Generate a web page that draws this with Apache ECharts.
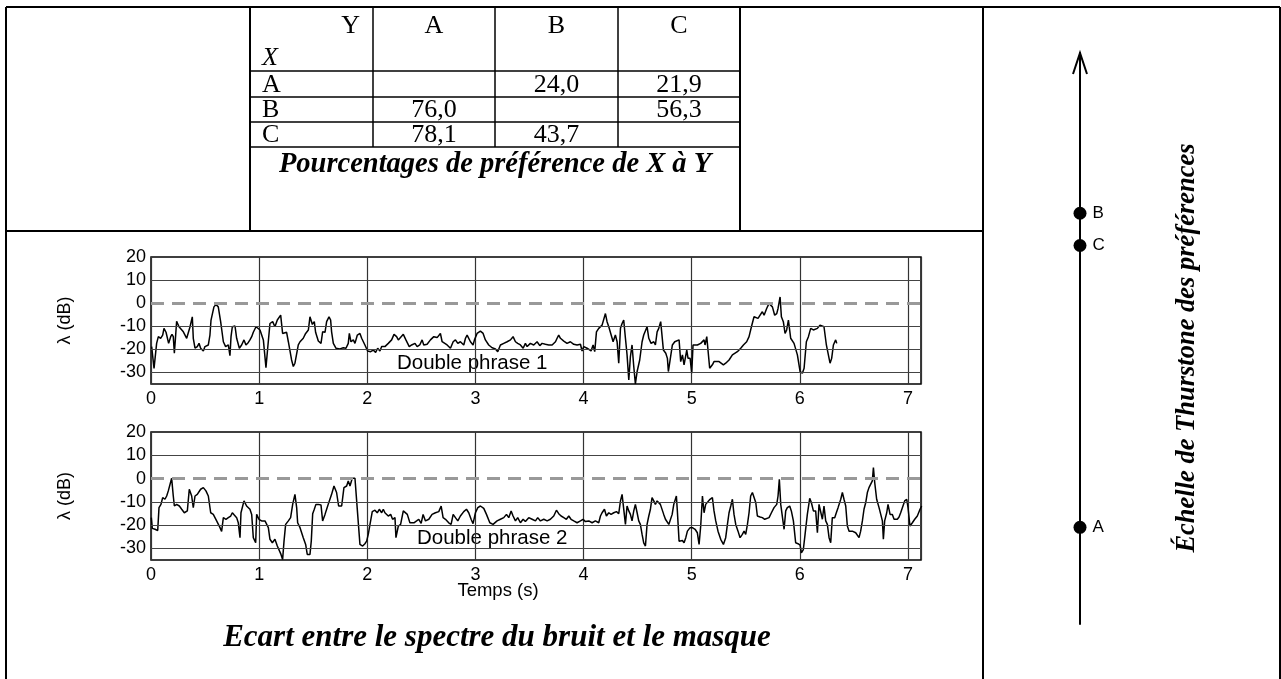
<!DOCTYPE html>
<html>
<head>
<meta charset="utf-8">
<title>Ecart entre le spectre du bruit et le masque</title>
<script src="https://cdn.jsdelivr.net/npm/echarts@6/dist/echarts.min.js"></script>
<style>
  html, body { margin: 0; padding: 0; background: #fff; }
  #main { width: 1281px; height: 679px; }
</style>
</head>
<body>
<div id="main"></div>
<script>
// pourcentages de préférence de X (lignes) à Y (colonnes)
var prefCols = ['A', 'B', 'C'];
var prefRows = ['A', 'B', 'C'];
var prefA = [null, 24.0, 21.9];
var prefB = [76.0, null, 56.3];
var prefC = [78.1, 43.7, null];

// échelle de Thurstone
var scaleNames = ['A', 'B', 'C'];
var scaleValues = [-0.49, 0.29, 0.21];

// axes des deux tracés
var timeMax = 7.12;
var levelTicks = [20, 10, 0, -10, -20, -30];
var gridLevels = [10, -10, -20, -30];
var maskLevel = 0;

// lambda (dB) en fonction du temps (s) - double phrase 1
var trace1 = [
  [0.006,-18.8],[0.028,-28.2],[0.052,-17.4],[0.068,-14.5],[0.089,-15.2],[0.108,-13.8],[0.120,-10.9],[0.139,-12.6],
  [0.151,-13.1],[0.163,-17.4],[0.182,-14.5],[0.194,-13.5],[0.206,-14.5],[0.216,-21.7],[0.225,-15.9],[0.237,-7.8],
  [0.259,-10.2],[0.274,-10.9],[0.299,-12.4],[0.314,-12.1],[0.330,-15.2],[0.345,-14.5],[0.361,-10.2],[0.382,-5.9],
  [0.391,-15.2],[0.407,-19.5],[0.428,-18.8],[0.444,-17.4],[0.459,-19.5],[0.484,-20.7],[0.499,-18.8],[0.530,-18.1],
  [0.545,-13.8],[0.555,-7.3],[0.582,-1.6],[0.601,-0.6],[0.622,-1.6],[0.644,-8.0],[0.669,-16.7],[0.690,-18.8],
  [0.706,-19.5],[0.715,-18.1],[0.730,-22.7],[0.740,-14.5],[0.752,-10.2],[0.777,-9.9],[0.792,-15.2],[0.817,-19.5],
  [0.838,-18.1],[0.860,-15.9],[0.878,-18.1],[0.900,-17.0],[0.915,-15.9],[0.931,-14.5],[0.946,-12.6],[0.971,-10.2],
  [0.986,-9.5],[1.008,-11.6],[1.039,-15.9],[1.063,-27.9],[1.079,-19.5],[1.100,-8.8],[1.125,-8.0],[1.146,-10.2],
  [1.168,-7.3],[1.199,-5.2],[1.217,-13.1],[1.254,-12.6],[1.270,-16.7],[1.300,-24.6],[1.316,-27.4],[1.331,-26.0],
  [1.362,-18.1],[1.378,-16.7],[1.408,-15.2],[1.430,-13.1],[1.455,-11.6],[1.470,-5.9],[1.492,-9.2],[1.510,-8.0],
  [1.522,-12.6],[1.547,-16.4],[1.572,-17.4],[1.587,-12.4],[1.609,-12.6],[1.624,-8.0],[1.646,-5.9],[1.661,-7.3],
  [1.670,-12.4],[1.686,-17.4],[1.710,-19.5],[1.747,-19.8],[1.778,-19.3],[1.803,-19.5],[1.824,-17.4],[1.834,-13.1],
  [1.849,-16.7],[1.871,-15.9],[1.886,-17.4],[1.908,-13.8],[1.932,-13.1],[1.948,-15.2],[1.978,-18.1],[2.003,-20.7],
  [2.031,-21.0],[2.055,-20.3],[2.077,-21.3],[2.096,-19.5],[2.117,-20.7],[2.133,-18.8],[2.163,-18.8],[2.194,-17.4],
  [2.225,-15.9],[2.247,-13.5],[2.271,-14.5],[2.287,-15.9],[2.333,-13.5],[2.357,-15.9],[2.388,-18.8],[2.410,-18.1],
  [2.441,-17.4],[2.461,-18.8],[2.485,-18.1],[2.507,-15.9],[2.522,-18.1],[2.553,-17.8],[2.584,-15.9],[2.615,-14.5],
  [2.646,-14.9],[2.676,-13.1],[2.692,-16.7],[2.707,-15.9],[2.738,-18.1],[2.769,-19.5],[2.794,-16.7],[2.815,-15.9],
  [2.837,-17.4],[2.861,-16.7],[2.892,-18.1],[2.908,-15.2],[2.923,-13.8],[2.954,-16.7],[2.978,-18.1],[2.991,-15.9],
  [3.015,-13.1],[3.046,-12.1],[3.071,-13.1],[3.092,-15.9],[3.123,-18.1],[3.154,-19.3],[3.185,-19.8],[3.206,-21.0],
  [3.231,-18.1],[3.262,-17.4],[3.293,-16.7],[3.324,-15.9],[3.348,-14.5],[3.370,-16.7],[3.391,-17.4],[3.416,-18.1],
  [3.441,-19.5],[3.462,-17.4],[3.478,-18.8],[3.508,-17.4],[3.539,-18.1],[3.570,-16.7],[3.595,-18.4],[3.616,-17.4],
  [3.647,-17.8],[3.678,-18.1],[3.709,-18.1],[3.740,-16.7],[3.755,-15.2],[3.770,-13.8],[3.786,-15.2],[3.817,-16.4],
  [3.847,-17.4],[3.878,-16.7],[3.909,-17.8],[3.940,-18.1],[3.971,-17.8],[3.986,-20.7],[4.002,-18.8],[4.017,-18.1],
  [4.032,-19.5],[4.048,-18.8],[4.069,-20.7],[4.088,-18.1],[4.103,-21.0],[4.119,-12.4],[4.140,-10.9],[4.156,-11.6],
  [4.171,-9.5],[4.186,-8.8],[4.202,-4.5],[4.217,-8.0],[4.233,-10.2],[4.248,-10.9],[4.273,-16.7],[4.294,-13.8],
  [4.310,-16.7],[4.325,-26.0],[4.341,-10.9],[4.356,-8.8],[4.371,-7.3],[4.387,-15.2],[4.402,-22.4],[4.418,-33.2],
  [4.433,-23.1],[4.448,-18.1],[4.464,-27.4],[4.479,-35.0],[4.495,-29.6],[4.519,-24.6],[4.541,-16.7],[4.556,-13.8],
  [4.572,-14.5],[4.587,-10.2],[4.603,-15.2],[4.624,-17.4],[4.649,-16.7],[4.664,-18.1],[4.680,-12.4],[4.695,-10.9],
  [4.713,-8.0],[4.738,-20.3],[4.760,-21.7],[4.775,-23.9],[4.784,-29.6],[4.800,-28.9],[4.821,-18.1],[4.843,-16.7],
  [4.883,-15.9],[4.898,-25.3],[4.914,-22.4],[4.929,-26.7],[4.954,-20.3],[4.966,-23.9],[4.985,-23.9],[5.000,-30.3],
  [5.012,-18.1],[5.028,-18.8],[5.052,-18.1],[5.068,-18.8],[5.083,-17.4],[5.099,-17.4],[5.114,-15.9],[5.123,-18.1],
  [5.139,-14.5],[5.166,-28.2],[5.191,-26.7],[5.206,-25.3],[5.253,-25.3],[5.268,-26.0],[5.293,-26.7],[5.314,-26.0],
  [5.345,-24.6],[5.361,-23.9],[5.376,-22.4],[5.391,-23.1],[5.422,-21.0],[5.453,-19.5],[5.478,-18.1],[5.484,-18.8],
  [5.508,-16.7],[5.530,-14.5],[5.552,-10.2],[5.576,-5.9],[5.592,-5.2],[5.613,-6.6],[5.632,-5.2],[5.653,-3.7],
  [5.669,-5.2],[5.693,-2.3],[5.715,-0.1],[5.730,0.6],[5.746,-1.6],[5.767,-5.2],[5.786,-4.5],[5.798,-2.3],
  [5.817,2.7],[5.829,-5.9],[5.847,-8.0],[5.863,-13.1],[5.878,-11.6],[5.894,-7.3],[5.915,-15.2],[5.931,-15.9],
  [5.946,-17.4],[5.977,-22.4],[6.002,-29.6],[6.023,-30.3],[6.039,-28.2],[6.060,-16.7],[6.079,-14.5],[6.100,-10.9],
  [6.125,-11.6],[6.162,-10.9],[6.186,-9.5],[6.199,-8.8],[6.223,-10.2],[6.245,-18.1],[6.270,-23.9],[6.279,-26.0],
  [6.294,-23.9],[6.310,-18.1],[6.331,-15.9],[6.341,-17.4]
];

// double phrase 2
var trace2 = [
  [0.003,-16.8],[0.012,-21.4],[0.037,-21.8],[0.062,-22.3],[0.074,-12.5],[0.092,-11.1],[0.108,-8.2],[0.129,-8.9],
  [0.145,-7.5],[0.160,-5.3],[0.191,0.1],[0.206,-7.5],[0.216,-11.8],[0.237,-11.1],[0.262,-11.8],[0.284,-13.2],
  [0.308,-14.7],[0.320,-15.4],[0.336,-13.9],[0.354,-4.6],[0.376,-7.5],[0.391,-12.5],[0.407,-7.5],[0.428,-6.8],
  [0.444,-7.5],[0.459,-4.6],[0.484,-3.9],[0.508,-5.3],[0.530,-7.5],[0.552,-14.7],[0.576,-15.4],[0.607,-18.2],
  [0.638,-21.1],[0.653,-22.7],[0.669,-16.8],[0.693,-17.5],[0.715,-16.8],[0.737,-16.1],[0.752,-14.7],[0.770,-15.7],
  [0.792,-16.8],[0.807,-19.0],[0.823,-25.4],[0.832,-14.7],[0.860,-9.6],[0.884,-11.8],[0.915,-13.2],[0.931,-15.4],
  [0.946,-25.4],[0.968,-27.6],[0.977,-15.4],[0.998,-17.5],[1.023,-18.2],[1.054,-18.2],[1.085,-21.1],[1.100,-26.1],
  [1.122,-27.6],[1.146,-26.1],[1.168,-29.0],[1.186,-29.0],[1.202,-32.6],[1.217,-34.8],[1.230,-26.9],[1.245,-19.7],
  [1.270,-18.2],[1.291,-16.8],[1.310,-11.1],[1.331,-6.8],[1.347,-12.5],[1.356,-19.0],[1.378,-21.1],[1.408,-25.4],
  [1.430,-28.3],[1.445,-32.6],[1.470,-32.6],[1.482,-26.9],[1.495,-15.1],[1.510,-13.2],[1.525,-11.1],[1.547,-11.1],
  [1.572,-11.4],[1.587,-18.2],[1.609,-15.4],[1.624,-13.2],[1.649,-9.6],[1.670,-6.8],[1.692,-3.2],[1.716,-6.0],
  [1.735,-11.8],[1.763,-11.8],[1.784,-3.9],[1.809,-3.2],[1.824,-1.0],[1.840,-3.2],[1.861,0.1],[1.886,0.1],
  [1.911,-15.4],[1.932,-28.3],[1.957,-29.0],[1.978,-28.0],[1.994,-26.9],[2.009,-24.0],[2.025,-19.7],[2.046,-14.2],
  [2.071,-13.6],[2.092,-14.7],[2.111,-13.2],[2.133,-14.7],[2.148,-13.2],[2.163,-14.7],[2.194,-16.1],[2.216,-15.4],
  [2.234,-17.5],[2.256,-16.8],[2.265,-25.4],[2.287,-20.4],[2.308,-19.7],[2.333,-13.9],[2.348,-13.2],[2.370,-15.4],
  [2.394,-19.0],[2.410,-19.7],[2.431,-19.0],[2.456,-18.2],[2.476,-17.5],[2.498,-19.3],[2.516,-15.4],[2.538,-18.2],
  [2.569,-17.5],[2.599,-15.4],[2.630,-14.7],[2.661,-14.2],[2.683,-11.8],[2.701,-16.8],[2.723,-17.5],[2.753,-19.0],
  [2.775,-19.7],[2.794,-15.4],[2.815,-16.8],[2.837,-18.2],[2.861,-16.1],[2.892,-14.2],[2.917,-13.2],[2.938,-14.7],
  [2.960,-17.5],[2.978,-19.4],[3.000,-14.7],[3.022,-12.5],[3.046,-11.8],[3.077,-12.8],[3.102,-15.4],[3.133,-19.0],
  [3.163,-19.7],[3.200,-18.2],[3.231,-17.5],[3.262,-16.8],[3.287,-15.4],[3.308,-16.8],[3.330,-13.9],[3.348,-16.1],
  [3.370,-18.2],[3.391,-16.8],[3.416,-19.0],[3.441,-17.5],[3.462,-18.5],[3.493,-16.8],[3.524,-17.5],[3.555,-18.2],
  [3.576,-16.8],[3.601,-18.2],[3.632,-17.5],[3.663,-18.2],[3.693,-17.5],[3.724,-16.1],[3.749,-13.6],[3.770,-15.1],
  [3.792,-16.1],[3.817,-16.8],[3.841,-17.5],[3.863,-16.1],[3.884,-17.5],[3.909,-18.2],[3.940,-19.0],[3.971,-18.2],
  [3.995,-17.5],[4.017,-18.5],[4.048,-18.2],[4.079,-19.0],[4.109,-18.2],[4.140,-19.0],[4.156,-16.1],[4.171,-14.7],
  [4.193,-13.2],[4.211,-16.1],[4.233,-14.7],[4.254,-15.4],[4.279,-14.7],[4.304,-14.2],[4.325,-15.1],[4.341,-9.6],
  [4.356,-6.8],[4.371,-6.0],[4.387,-19.7],[4.402,-11.8],[4.418,-13.9],[4.433,-15.4],[4.448,-18.2],[4.464,-13.9],
  [4.479,-11.1],[4.495,-14.7],[4.510,-18.2],[4.525,-19.7],[4.541,-24.0],[4.556,-27.6],[4.572,-29.0],[4.587,-19.7],
  [4.603,-16.1],[4.618,-13.2],[4.633,-8.2],[4.649,-9.6],[4.664,-11.1],[4.680,-9.6],[4.695,-8.9],[4.710,-11.1],
  [4.726,-11.1],[4.741,-15.4],[4.757,-17.5],[4.772,-18.2],[4.788,-19.7],[4.803,-19.0],[4.819,-15.4],[4.834,-11.1],
  [4.858,-7.5],[4.867,-13.9],[4.883,-26.9],[4.898,-26.1],[4.914,-26.6],[4.929,-27.6],[4.945,-25.4],[4.960,-22.6],
  [4.985,-21.1],[5.006,-21.1],[5.031,-21.8],[5.052,-23.3],[5.068,-28.3],[5.083,-20.4],[5.099,-7.5],[5.114,-14.7],
  [5.129,-11.1],[5.145,-10.3],[5.169,-8.9],[5.191,-8.2],[5.206,-13.9],[5.222,-18.2],[5.243,-22.6],[5.268,-26.1],
  [5.293,-28.3],[5.314,-25.4],[5.330,-19.7],[5.345,-14.7],[5.361,-11.8],[5.376,-8.9],[5.391,-15.4],[5.407,-19.7],
  [5.428,-22.6],[5.447,-25.4],[5.468,-24.0],[5.484,-22.6],[5.499,-24.0],[5.515,-19.7],[5.530,-14.7],[5.545,-7.5],
  [5.561,-6.0],[5.576,-5.3],[5.592,-10.3],[5.607,-16.1],[5.632,-16.5],[5.653,-16.8],[5.675,-17.5],[5.693,-16.8],
  [5.715,-16.8],[5.737,-14.7],[5.761,-12.5],[5.786,-11.1],[5.798,-7.5],[5.810,-0.3],[5.823,-11.1],[5.838,-10.8],
  [5.854,-21.8],[5.869,-13.9],[5.884,-12.5],[5.906,-11.8],[5.921,-13.9],[5.940,-18.2],[5.961,-27.6],[5.983,-28.0],
  [6.002,-28.6],[6.014,-31.9],[6.032,-30.5],[6.048,-24.0],[6.069,-15.4],[6.091,-8.5],[6.106,-10.3],[6.125,-13.9],
  [6.146,-13.9],[6.162,-23.3],[6.177,-11.1],[6.193,-10.8],[6.208,-17.5],[6.223,-11.8],[6.239,-18.2],[6.254,-19.7],
  [6.270,-25.4],[6.285,-27.6],[6.300,-16.8],[6.322,-16.8],[6.337,-14.7],[6.353,-12.5],[6.378,-8.9],[6.393,-6.0],
  [6.408,-8.9],[6.424,-11.8],[6.439,-20.4],[6.455,-22.6],[6.470,-21.8],[6.485,-22.6],[6.501,-22.6],[6.516,-23.3],
  [6.532,-24.0],[6.547,-25.4],[6.562,-22.6],[6.578,-18.2],[6.593,-13.2],[6.609,-10.3],[6.624,-6.0],[6.639,-3.9],
  [6.655,-4.6],[6.670,-1.0],[6.680,4.7],[6.692,-1.7],[6.710,-8.9],[6.732,-12.5],[6.747,-13.2],[6.763,-18.2],
  [6.772,-26.1],[6.784,-18.2],[6.803,-14.7],[6.815,-11.1],[6.834,-15.4],[6.855,-15.4],[6.871,-17.5],[6.901,-17.5],
  [6.917,-16.5],[6.932,-14.7],[6.948,-15.4],[6.969,-9.6],[6.988,-8.9],[7.000,-12.5],[7.018,-20.4],[7.040,-19.0],
  [7.062,-17.5],[7.086,-16.1],[7.111,-13.2],[7.126,-11.8]
];

var chart = echarts.init(document.getElementById('main'), null, { renderer: 'canvas' });

var sans = '"Liberation Sans", Arial, sans-serif';
var serif = '"Liberation Serif", "Times New Roman", serif';

// cadre et tableau
var tableX = [250, 373, 495, 618, 740];
var tableY = [7, 71, 97, 122, 147, 231];

function seg(x1, y1, x2, y2, w) {
  return { type: 'line', silent: true, shape: { x1: x1, y1: y1, x2: x2, y2: y2 },
           style: { stroke: '#000', lineWidth: w } };
}
function txt(x, y, s, size, font, align, style) {
  return { type: 'text', silent: true, x: x, y: y,
           style: { text: s, fill: '#000', font: (style || '') + ' ' + size + 'px ' + font,
                    align: align || 'center', verticalAlign: 'middle' } };
}
function fmtPct(v) {
  return v == null ? '' : v.toFixed(1).replace('.', ',');
}

var graphics = [];
// cadre extérieur
graphics.push(seg(6, 7, 1280, 7, 2));
graphics.push(seg(6, 7, 6, 679, 2));
graphics.push(seg(1280, 7, 1280, 679, 2));
graphics.push(seg(983, 7, 983, 679, 2));
graphics.push(seg(6, 231, 983, 231, 2));
// tableau
graphics.push(seg(tableX[0], 7, tableX[0], 231, 2));
graphics.push(seg(tableX[4], 7, tableX[4], 231, 2));
for (var i = 1; i < 4; i++) graphics.push(seg(tableX[i], 7, tableX[i], tableY[4], 1.5));
for (var j = 1; j < 5; j++) graphics.push(seg(tableX[0], tableY[j], tableX[4], tableY[j], 1.5));

var cellSize = 26;
graphics.push(txt(360, 26, 'Y', cellSize, serif, 'right'));
graphics.push(txt(262, 58, 'X', cellSize, serif, 'left', 'italic'));
var prefData = [prefA, prefB, prefC];
for (var c = 0; c < prefCols.length; c++) {
  var cx = (tableX[c + 1] + tableX[c + 2]) / 2;
  graphics.push(txt(cx, 26, prefCols[c], cellSize, serif));
}
for (var r = 0; r < prefRows.length; r++) {
  var cy = (tableY[r + 1] + tableY[r + 2]) / 2 + 1;
  graphics.push(txt(262, cy, prefRows[r], cellSize, serif, 'left'));
  for (var k = 0; k < 3; k++) {
    var vx = (tableX[k + 1] + tableX[k + 2]) / 2;
    graphics.push(txt(vx, cy, fmtPct(prefData[r][k]), cellSize, serif));
  }
}
graphics.push(txt(495, 165, 'Pourcentages de préférence de X à Y', 28.5, serif, 'center', 'italic bold'));
graphics.push(txt(497, 638, 'Ecart entre le spectre du bruit et le masque', 31, serif, 'center', 'italic bold'));
graphics.push(txt(397, 363, 'Double phrase 1', 20.5, sans, 'left'));
graphics.push(txt(417, 538, 'Double phrase 2', 20.5, sans, 'left'));
graphics.push(txt(498, 591, 'Temps (s)', 18.5, sans));
var vt = txt(1187, 348, 'Échelle de Thurstone des préférences', 26.5, serif, 'center', 'italic bold');
vt.rotation = Math.PI / 2;
graphics.push(vt);

function levelMarks() {
  var data = gridLevels.map(function (v) {
    return { yAxis: v, lineStyle: { color: '#444', width: 1.2, type: 'solid' } };
  });
  data.push({ yAxis: maskLevel, lineStyle: { color: '#999', width: 3, type: [13, 8] } });
  return { silent: true, symbol: ['none', 'none'], label: { show: false },
           emphasis: { disabled: true }, animation: false, data: data };
}

function timeAxis(idx) {
  return {
    gridIndex: idx, type: 'value', min: 0, max: timeMax, interval: 1,
    axisLine: { show: false }, axisTick: { show: false },
    axisLabel: { fontSize: 18, fontFamily: sans, color: '#000', margin: 6,
                 formatter: function (v) { return Number.isInteger(v) ? String(v) : ''; } },
    splitLine: { show: true, lineStyle: { color: '#333', width: 1.2 } }
  };
}
function levelAxis(idx) {
  return {
    gridIndex: idx, type: 'value', min: -35, max: 20, interval: 5,
    name: 'λ (dB)', nameLocation: 'middle', nameGap: 77,
    nameTextStyle: { fontSize: 18, fontFamily: sans, color: '#000' },
    axisLine: { show: false }, axisTick: { show: false }, splitLine: { show: false },
    axisLabel: { fontSize: 18, fontFamily: sans, color: '#000', margin: 5,
                 formatter: function (v) { return levelTicks.indexOf(v) >= 0 ? String(v) : ''; } }
  };
}

var scaleTop = 0.688, scaleBottom = -0.73;

var option = {
  backgroundColor: '#fff',
  animation: false,
  grid: [
    { left: 151, top: 257, width: 770, height: 127, show: true, borderColor: '#000', borderWidth: 1.5 },
    { left: 151, top: 432, width: 770, height: 128, show: true, borderColor: '#000', borderWidth: 1.5 },
    { left: 1080, top: 53, width: 100, height: 571 }
  ],
  xAxis: [
    timeAxis(0),
    timeAxis(1),
    { gridIndex: 2, type: 'value', min: 0, max: 1, show: false }
  ],
  yAxis: [
    levelAxis(0),
    levelAxis(1),
    { gridIndex: 2, type: 'value', min: scaleBottom, max: scaleTop,
      axisLine: { show: true, lineStyle: { color: '#000', width: 2 } },
      axisTick: { show: false }, axisLabel: { show: false }, splitLine: { show: false } }
  ],
  graphic: graphics,
  series: [
    { type: 'line', xAxisIndex: 0, yAxisIndex: 0, data: trace1, showSymbol: false,
      lineStyle: { color: '#000', width: 1.5 }, markLine: levelMarks(), z: 3 },
    { type: 'line', xAxisIndex: 1, yAxisIndex: 1, data: trace2, showSymbol: false,
      lineStyle: { color: '#000', width: 1.5 }, markLine: levelMarks(), z: 3 },
    { type: 'scatter', xAxisIndex: 2, yAxisIndex: 2, symbolSize: 13,
      itemStyle: { color: '#000', opacity: 1 },
      label: { show: true, position: 'right', distance: 6, formatter: '{b}',
               fontSize: 17, fontFamily: sans, color: '#000' },
      data: scaleNames.map(function (n, i) { return { name: n, value: [0, scaleValues[i]] }; }) }
  ]
};
chart.setOption(option);

// pointe de flèche ouverte en haut de l'échelle
var tip = chart.convertToPixel({ xAxisIndex: 2, yAxisIndex: 2 }, [0, scaleTop]);
graphics.push({ type: 'polyline', silent: true,
  shape: { points: [[tip[0] - 7, tip[1] + 21], [tip[0], tip[1]], [tip[0] + 7, tip[1] + 21]] },
  style: { stroke: '#000', lineWidth: 2, fill: null } });
chart.setOption({ graphic: graphics });
</script>
</body>
</html>
